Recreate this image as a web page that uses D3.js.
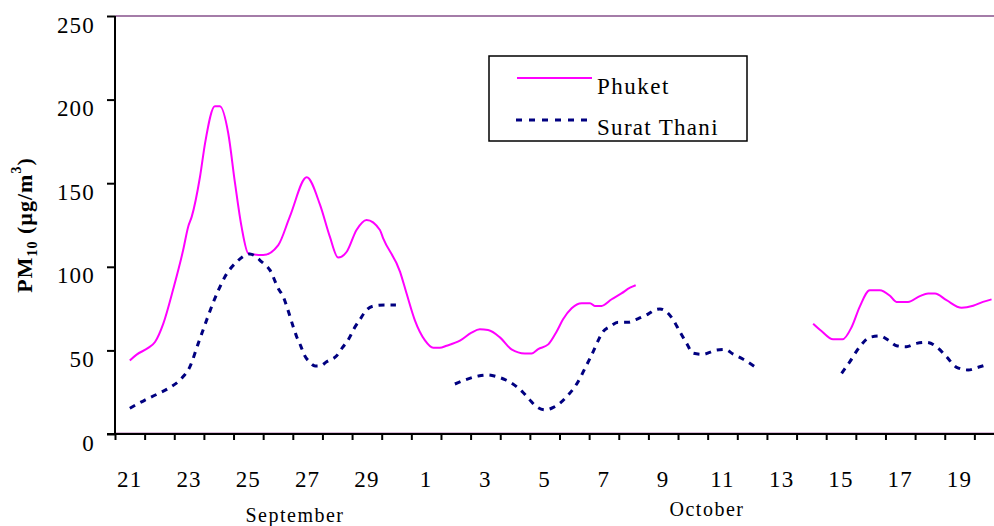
<!DOCTYPE html>
<html>
<head>
<meta charset="utf-8">
<script src="https://cdn.jsdelivr.net/npm/d3@7"></script>
<style>
  html, body { margin: 0; padding: 0; background: #fff; }
  svg { display: block; font-family: "Liberation Serif", "Times New Roman", serif; }
</style>
</head>
<body>
<svg id="chart" width="994" height="526"></svg>
<script>
// ---- data ----
// day offset from 21 September (0 = Sep 21, 10 = Oct 1), null marks a gap in the record
const days = ["21","22","23","24","25","26","27","28","29","30",
              "1","2","3","4","5","6","7","8","9","10",
              "11","12","13","14","15","16","17","18","19","20"];
const dayLabels = ["21","23","25","27","29","1","3","5","7","9","11","13","15","17","19"];
const yTicks = [0, 50, 100, 150, 200, 250];

const phuketT = [0.0,0.23,0.62,0.85,1.13,1.47,1.80,1.97,2.09,2.37,2.54,2.87,3.04,3.32,3.55,3.77,4.00,4.50,5.01,5.40,5.97,6.42,6.75,7.03,7.32,7.65,7.99,8.44,8.55,9.12,9.34,9.62,9.96,10.24,10.46,10.69,11.14,11.53,11.81,12.09,12.49,12.88,13.33,13.56,13.78,14.12,14.40,14.62,14.91,15.25,15.53,15.69,15.92,16.26,16.59,16.88,17.07,
  null,
  23.06,23.34,23.73,24.05,24.36,24.63,24.97,25.31,25.65,25.87,26.26,26.66,26.94,27.17,27.56,28.07,28.46,28.79,29.08];
const phuketPM = [44,47.5,51.5,55,66,87,110,124,130,154,174,196,196,180,150,124,108,107,113,130,153.5,137,118,105.5,109,122,128,122,117,97,84,68,56,51.6,51.6,52.8,55.8,60.6,62.6,62.2,57.8,50.6,48.2,48.2,50.8,53.6,61.2,68.6,75.2,78.2,78.2,76.6,76.6,80.6,84.1,87.5,89,
  null,
  66,61.6,56.6,56.6,64,76,86,86,82.7,79,79,82.5,84,84,80,75.5,76.7,79,80.5];

const suratT = [0.0,0.51,0.91,1.36,1.75,2.03,2.31,2.99,3.21,3.61,4.05,4.45,4.73,5.01,5.18,5.29,5.40,5.52,5.63,5.77,5.89,6.06,6.25,6.44,6.64,6.98,7.18,7.40,7.56,7.77,7.99,8.24,8.61,8.98,
  null,
  10.97,11.37,11.76,12.06,12.38,12.69,13.05,13.28,13.50,13.73,14.01,14.23,14.51,14.79,15.02,15.19,15.36,15.53,15.69,15.84,15.97,16.20,16.48,16.82,17.10,17.44,17.72,17.89,18.11,18.34,18.56,18.79,19.01,19.35,19.57,19.80,20.08,20.36,20.70,21.09,
  null,
  24.02,24.30,24.63,24.97,25.31,25.59,25.87,26.21,26.55,26.89,27.22,27.56,27.90,28.29,28.63,28.96];
const suratPM = [15.4,20.3,23.7,27.9,33.3,40.3,54.2,86,94,103,107.7,103,98,87,82,76.6,70.6,63.8,58.2,52.6,47.2,43.2,40.7,40.8,43.2,46.8,51.8,57.2,62.8,68.6,74.2,76.6,77.2,77.2,
  null,
  29.9,32.7,34.7,35.3,34.3,32.3,28.3,24.7,20.3,16.3,14.4,15.4,18.3,23.3,28.3,33.3,39.3,45.3,51.3,57.2,61.2,64.2,66.8,66.8,68.6,71.2,74.2,74.8,73.1,68.2,61.2,54.2,48.3,47.6,48.8,50.2,50.6,47.8,44.7,40.3,
  null,
  36.3,43.3,52.2,57.8,58.6,56.2,52.8,52.2,54.2,54.8,52.2,46.2,39.9,38.3,39.9,41.7];

const seriesNames = ["Phuket", "Surat Thani"];
const seriesColors = ["#FF00FF", "#000080"];

(function () {
// ---- layout ----
const svg = d3.select("#chart");
const pL = 115, pT = 16, pB = 434, pR = 1004;

const xBand = d3.scaleBand().domain(days).range([pL, pR]).paddingInner(0).paddingOuter(0);
const x = d3.scaleLinear().domain([-0.5, days.length - 0.5]).range([pL, pR]);
const y = d3.scaleLinear().domain([0, 250]).range([pB, pT]);

// plot border (top line)
svg.append("line")
  .attr("x1", pL).attr("x2", 994).attr("y1", y(250)).attr("y2", y(250))
  .attr("stroke", "#A47CA8").attr("stroke-width", 2);
svg.append("line")
  .attr("x1", pL).attr("x2", 994).attr("y1", y(0) - 1.5).attr("y2", y(0) - 1.5)
  .attr("stroke", "#D8B8D8").attr("stroke-width", 1);

// lines
const pts = (T, V) => T.map((t, i) => ({ t, v: V[i] }));
const line = d3.line()
  .defined(d => d.t !== null && d.v !== null)
  .curve(d3.curveMonotoneX)
  .x(d => x(d.t)).y(d => y(d.v));

svg.append("path").datum(pts(phuketT, phuketPM))
  .attr("d", line).attr("fill", "none")
  .attr("stroke", seriesColors[0]).attr("stroke-width", 2).attr("stroke-linejoin", "round");

svg.append("path").datum(pts(suratT, suratPM))
  .attr("d", line).attr("fill", "none")
  .attr("stroke", seriesColors[1]).attr("stroke-width", 3)
  .attr("stroke-dasharray", "6,6");

// y axis
const yAxis = svg.append("g").attr("transform", `translate(${pL},0)`)
  .call(d3.axisLeft(y).tickValues(yTicks).tickSize(8).tickPadding(12).tickFormat(d3.format("d")));
yAxis.select(".domain").attr("stroke", "#000").attr("stroke-width", 2).attr("d", `M0,${pT}V${pB}`);
yAxis.selectAll(".tick line").attr("stroke", "#000").attr("stroke-width", 2);
yAxis.selectAll(".tick text")
  .attr("dy", "0.7em").attr("fill", "#000")
  .style("font-size", "23px").style("letter-spacing", "1.2px")
  .style("font-family", "'Liberation Serif', serif");

// x axis: ticks at day boundaries
const tickPos = days.map(d => xBand(d)).concat([pR]);
const xAxis = svg.append("g").attr("transform", `translate(0,${pB})`)
  .call(d3.axisBottom(d3.scaleIdentity()).tickValues(tickPos).tickSize(6).tickFormat(""));
xAxis.select(".domain").attr("stroke", "#000").attr("stroke-width", 2).attr("d", `M${pL - 8},0H994`);
xAxis.selectAll(".tick line").attr("stroke", "#000").attr("stroke-width", 2);

// x labels every other day, centred in day band
const labelAxis = svg.append("g").attr("transform", `translate(0,${pB})`)
  .call(d3.axisBottom(xBand).tickValues(days.filter((d, i) => i % 2 === 0)).tickSize(0).tickPadding(37));
labelAxis.select(".domain").remove();
labelAxis.selectAll(".tick text")
  .attr("fill", "#000")
  .style("font-size", "23px").style("letter-spacing", "1.2px")
  .style("font-family", "'Liberation Serif', serif")
  .text((d, i) => dayLabels[i]);

// month labels
svg.append("text").attr("x", 295).attr("y", 522).attr("text-anchor", "middle")
  .style("font-size", "20px").style("letter-spacing", "1.5px").text("September");
svg.append("text").attr("x", 707).attr("y", 516).attr("text-anchor", "middle")
  .style("font-size", "20px").style("letter-spacing", "1.5px").text("October");

// y title
const yt = svg.append("text")
  .attr("transform", "translate(32,225) rotate(-90)")
  .attr("text-anchor", "middle")
  .style("font-size", "22px").style("font-weight", "bold").style("letter-spacing", "1px");
yt.append("tspan").text("PM");
yt.append("tspan").attr("dy", 5).style("font-size", "14px").text("10");
yt.append("tspan").attr("dy", -5).text(" (µg/m");
yt.append("tspan").attr("dy", -11).style("font-size", "14px").text("3");
yt.append("tspan").attr("dy", 11).text(")");

// legend
const lg = svg.append("g");
lg.append("rect").attr("x", 489).attr("y", 56).attr("width", 258).attr("height", 85)
  .attr("fill", "#fff").attr("stroke", "#000").attr("stroke-width", 1.5);
lg.append("line").attr("x1", 517).attr("x2", 592).attr("y1", 78).attr("y2", 78)
  .attr("stroke", seriesColors[0]).attr("stroke-width", 2);
lg.append("text").attr("x", 597).attr("y", 94).style("font-size", "23px").style("letter-spacing", "1.5px").text(seriesNames[0]);
lg.append("line").attr("x1", 516).attr("x2", 594).attr("y1", 120).attr("y2", 120)
  .attr("stroke", seriesColors[1]).attr("stroke-width", 3).attr("stroke-dasharray", "6,7");
lg.append("text").attr("x", 597).attr("y", 135).style("font-size", "23px").style("letter-spacing", "1.3px").text(seriesNames[1]);
})();
</script>
</body>
</html>
